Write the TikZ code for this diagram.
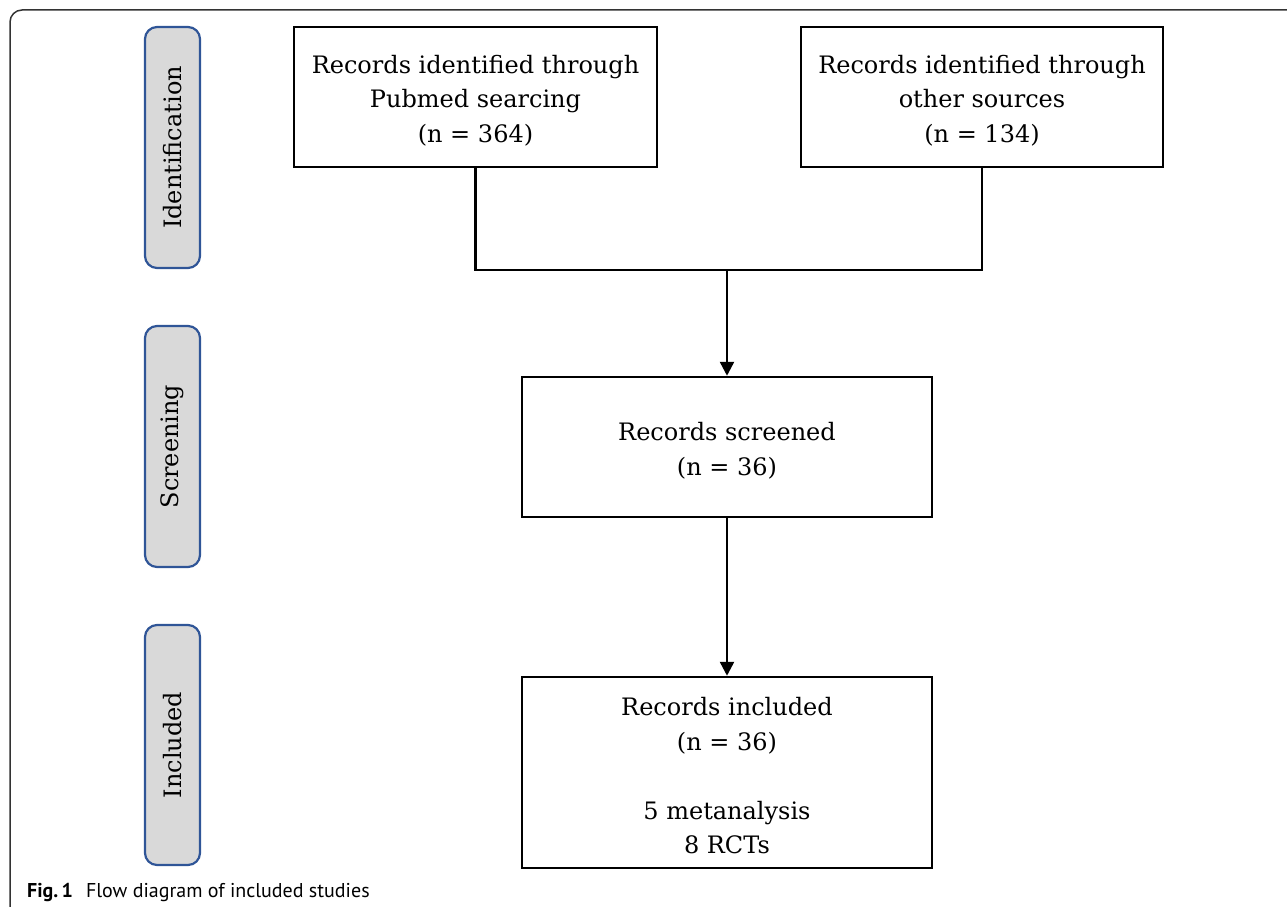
\documentclass[tikz,border=0pt]{standalone}
\usepackage{fontspec}
\newfontfamily\capfont{PT Sans}
\newfontfamily\pal{DejaVu Serif}
\usetikzlibrary{arrows.meta}
\definecolor{tabfill}{HTML}{D9D9D9}
\definecolor{tabline}{HTML}{2F5597}
\definecolor{framec}{HTML}{333333}
\tikzset{
  box/.style={draw=black, line width=2.5pt, fill=white, inner sep=0pt},
  boxtext/.style={align=center, font=\pal\fontsize{24}{34.5}\selectfont,
    inner sep=0pt, yshift=-3.5pt},
  tab/.style={draw=tabline, line width=2.2pt, fill=tabfill, rounded corners=12pt,
    minimum width=55pt, inner sep=0pt},
  tablabel/.style={rotate=90, font=\pal\fontsize{24}{30}\selectfont, inner sep=0pt},
  conn/.style={line width=2.5pt, black},
  arr/.style={conn, -{Triangle[length=14pt,width=14pt]}},
  framestyle/.style={draw=framec, line width=1.5pt, rounded corners=12pt}
}
\begin{document}
\begin{tikzpicture}[x=1pt,y=-1pt]
\useasboundingbox (0,0) rectangle (1287,907);
\path[framestyle] (10,920) -- (10,10) -- (1300,10);
% side tabs
\node[tab, minimum height=241pt] (tid) at (172.5,147.5) {};
\node[tablabel] (lid) at (tid.center) {Identification};
\node[tab, minimum height=241pt] (tsc) at (172.5,446.5) {};
\node[tablabel] (lsc) at (tsc.center) {Screening};
\node[tab, minimum height=240pt] (tin) at (172.5,745) {};
\node[tablabel] (lin) at (tin.center) {Included};
% boxes
\node[box, minimum width=363pt, minimum height=140pt] (b1) at (475.5,97) {};
\node[boxtext] (t1) at (b1.center)
  {Records identified through\\Pubmed searcing\\(n = 364)};
\node[box, minimum width=362pt, minimum height=140pt] (b2) at (982,97) {};
\node[boxtext] (t2) at (b2.center)
  {Records identified through\\other sources\\(n = 134)};
\node[box, minimum width=410pt, minimum height=140pt] (b3) at (727,447) {};
\node[boxtext] (t3) at (b3.center)
  {Records screened\\(n = 36)};
\node[box, minimum width=410pt, minimum height=191pt] (b4) at (727,772.5) {};
\node[boxtext] (t4) at (b4.center)
  {Records included\\(n = 36)\\[34.5pt]5 metanalysis\\8 RCTs};
% connectors
\coordinate (jl) at (b1.south |- 0,270);
\coordinate (jr) at (b2.south |- 0,270);
\coordinate (jm) at (b3.north |- 0,270);
\draw[conn, line join=miter] (b1.south) -- (jl) -- (jr) -- (b2.south);
\draw[arr] (jm) -- (b3.north);
\draw[arr] (b3.south) -- (b4.north);
% caption
\node[anchor=base west, inner sep=0pt, font=\capfont\fontsize{20}{24}\selectfont] (cap) at (27,897)
  {\textbf{Fig.\,1}\hspace{13pt}Flow diagram of included studies};
\end{tikzpicture}
\end{document}
